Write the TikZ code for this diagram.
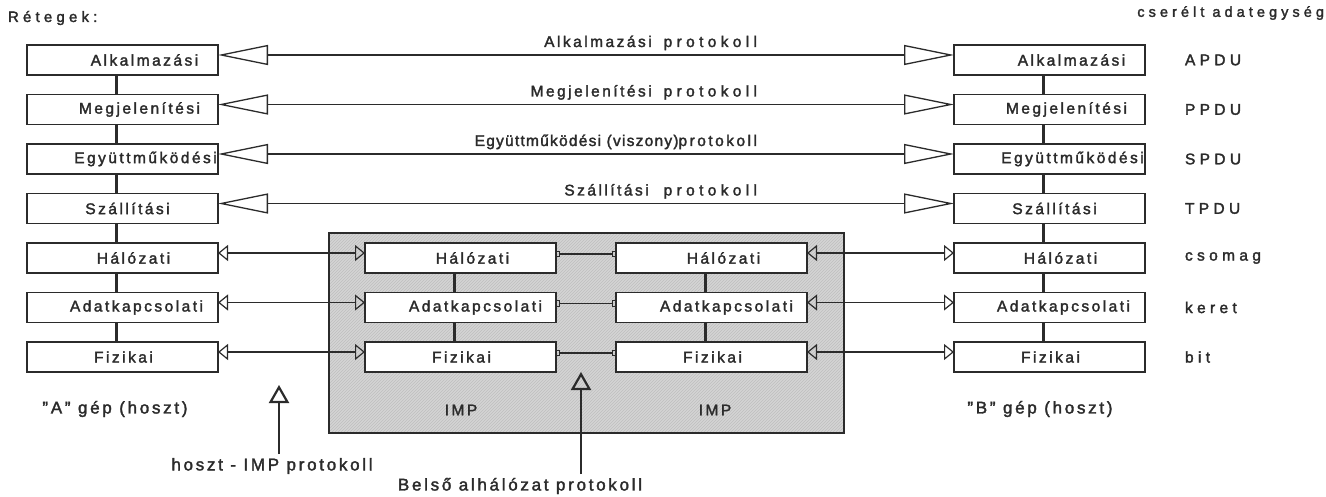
\documentclass[tikz,border=0pt]{standalone}
\usepackage{fontspec}
\setmainfont{Liberation Sans}[LetterSpace=16, FakeBold=2]
\newfontfamily\widefont{Liberation Sans}[LetterSpace=28, FakeBold=2]
\newfontfamily\tightfont{Liberation Sans}[LetterSpace=8, FakeBold=2]
\usetikzlibrary{arrows.meta,patterns}

\definecolor{ink}{HTML}{2B2B2B}
\definecolor{shade}{HTML}{D4D4D4}

\newcommand{\dq}{\symbol{34}}
\newcommand{\protword}{{\widefont protokoll}}

\begin{document}
\begin{tikzpicture}[x=1pt,y=-1pt,
  every node/.style={inner sep=0pt, outer sep=0pt},
  txt/.style={text=ink, font=\fontsize{15.5}{18}\selectfont},
  bigtxt/.style={text=ink, font=\fontsize{17}{20}\selectfont},
  wtxt/.style={text=ink, font=\widefont\fontsize{15.5}{18}\selectfont},
  layer/.style={draw=ink, line width=1.5pt, fill=white, minimum width=191pt, minimum height=30pt},
  stack/.style={draw=ink, line width=2.2pt},
  peer/.style={draw=ink, line width=1.1pt,
    {Triangle[open,length=50pt,width=20pt,line width=1.3pt]}-{Triangle[open,length=50pt,width=20pt,line width=1.3pt]}},
  link/.style={draw=ink, line width=1.1pt,
    {Triangle[open,length=10pt,width=16pt,line width=1.2pt]}-{Triangle[open,length=10pt,width=16pt,line width=1.2pt]}},
  relay/.style={draw=ink, line width=1.1pt,
    {Rectangle[open,length=4pt,width=6pt,line width=1pt]}-{Rectangle[open,length=4pt,width=6pt,line width=1pt]}},
  pointer/.style={draw=ink, line width=2.4pt, -{Triangle[open,length=18pt,width=20pt,line width=2.2pt]}},
]
\useasboundingbox (0,0) rectangle (1326,497);
\fill[white] (0,0) rectangle (1326,497);

% subnet (IMP) area
\node[draw=ink, line width=2.4pt, minimum width=515pt, minimum height=200pt,
      preaction={fill=shade}, pattern=north east lines, pattern color=gray!50] (imp) at (586.5,333) {};

% host stacks A and B
\foreach \nm/\lab/\dx [count=\i] in {alk/Alkalmazási/22, meg/Megjelenítési/17, egy/Együttműködési/23,
    szal/Szállítási/5, hal/Hálózati/11, adat/Adatkapcsolati/14, fiz/Fizikai/1}{
  \pgfmathsetmacro\yy{60+49.5*(\i-1)}
  \node[layer] (A\nm) at (122.5,\yy) {};
  \node[txt] (A\nm-t) at ([xshift=\dx pt]A\nm.center) {\lab};
  \node[layer] (B\nm) at (1049.5,\yy) {};
  \node[txt] (B\nm-t) at ([xshift=\dx pt]B\nm.center) {\lab};
}

% the two IMPs (lower three layers)
\foreach \nm/\lab/\dx [count=\i] in {hal/Hálózati/12, adat/Adatkapcsolati/15, fiz/Fizikai/1}{
  \pgfmathsetmacro\yy{258+49.5*(\i-1)}
  \node[layer] (I\nm) at (460.5,\yy) {};
  \node[txt] (I\nm-t) at ([xshift=\dx pt]I\nm.center) {\lab};
  \node[layer] (J\nm) at (711.5,\yy) {};
  \node[txt] (J\nm-t) at ([xshift=\dx pt]J\nm.center) {\lab};
}

% vertical links inside each stack
\foreach \s in {A,B}{
  \foreach \u/\v in {alk/meg, meg/egy, egy/szal, szal/hal, hal/adat, adat/fiz}{
    \draw[stack] ([xshift=-6pt]\s\u.south) -- ([xshift=-6pt]\s\v.north);
  }
}
\foreach \s in {I,J}{
  \foreach \u/\v in {hal/adat, adat/fiz}{
    \draw[stack] ([xshift=-6pt]\s\u.south) -- ([xshift=-6pt]\s\v.north);
  }
}

% end-to-end peer protocols
\foreach \nm in {alk, meg, egy, szal}{
  \draw[peer] ([yshift=5pt]A\nm.east) -- ([yshift=5pt]B\nm.west);
}
\node[txt, anchor=base east] (palk) at (757,47) {Alkalmazási\hspace{12pt}\protword};
\node[txt, anchor=base east] (pmeg) at (757,96.5) {Megjelenítési\hspace{12pt}\protword};
\node[txt, anchor=base east] (pegy) at (757,146) {{\tightfont Együttműködési (viszony)}protokoll};
\node[txt, anchor=base east] (pszal) at (757,195.5) {Szállítási\hspace{15pt}\protword};

% host-IMP and IMP-IMP links
\foreach \nm in {hal, adat, fiz}{
  \draw[link] ([yshift=5pt]A\nm.east) -- ([yshift=5pt]I\nm.west);
  \draw[relay] ([yshift=4pt]I\nm.east) -- ([yshift=4pt]J\nm.west);
  \draw[link] ([yshift=5pt]J\nm.east) -- ([yshift=5pt]B\nm.west);
}

% headings and captions
\node[anchor=west, text=ink, font=\widefont\fontsize{15}{18}\selectfont] (layers) at (8,18) {Rétegek:};
\node[anchor=east, text=ink, font=\widefont\fontsize{14.5}{17}\selectfont] (units) at (1324,13) {cserélt adategység};
\foreach \nm/\pdu [count=\i] in {alk/APDU, meg/PPDU, egy/SPDU, szal/TPDU, hal/csomag, adat/keret, fiz/bit}{
  \node[wtxt, anchor=west] (u\nm) at (1185,{60+49.5*(\i-1)}) {\pdu};
}
\node[bigtxt] (hostA) at (115,409) {\dq A\dq\ gép (hoszt)};
\node[bigtxt] (hostB) at (1040,409) {\dq B\dq\ gép (hoszt)};
\node[txt] (impL) at (461,410) {IMP};
\node[txt] (impR) at (715,410) {IMP};

% protocol pointers at the bottom
\node[bigtxt] (hostimp) at (272,466) {hoszt - IMP protokoll};
\node[bigtxt] (subnet) at (520,486) {Belső alhálózat protokoll};
\coordinate (hbase) at (279,454);
\coordinate (htip) at (279,385);
\coordinate (sbase) at (581,474);
\coordinate (stip) at (581,372);
\draw[pointer] (hbase) -- (htip);
\draw[pointer] (sbase) -- (stip);
\end{tikzpicture}
\end{document}
